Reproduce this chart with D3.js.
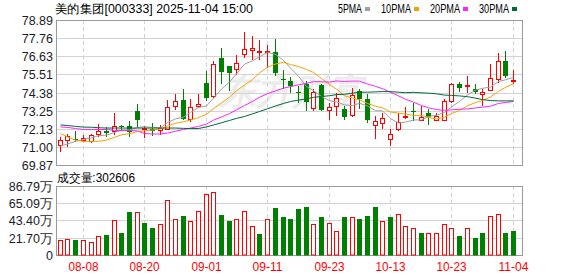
<!DOCTYPE html>
<html>
<head>
<meta charset="utf-8">
<script src="https://cdn.jsdelivr.net/npm/d3@7"></script>
<style>
body { margin: 0; background: #fff; }
svg text { font-family: "Liberation Sans", Arial, sans-serif; }
</style>
</head>
<body>
<div id="canvas"></div>
<script>
"use strict"

let title = "美的集团[000333] 2025-11-04 15:00"
let volTitle = "成交量:302606"

let dates = ["08-05","08-06","08-07","08-08","08-11","08-12","08-13","08-14","08-15","08-18",
    "08-19","08-20","08-21","08-22","08-25","08-26","08-27","08-28","08-29","09-01",
    "09-02","09-03","09-04","09-05","09-08","09-09","09-10","09-11","09-12","09-15",
    "09-16","09-17","09-18","09-19","09-22","09-23","09-24","09-25","09-26","09-29",
    "09-30","10-09","10-10","10-13","10-14","10-15","10-16","10-17","10-20","10-21",
    "10-22","10-23","10-24","10-27","10-28","10-29","10-30","10-31","11-03","11-04"]

let opens = [71.14, 71.47, 71.52, 71.45, 71.37, 71.82, 72.03, 71.99, 72.32, 72.34,
    73.23, 72.20, 72.17, 72.05, 72.11, 73.56, 73.93, 72.78, 73.56, 75.02,
    74.18, 76.57, 76.05, 75.89, 76.78, 77.07, 76.96, 77.00, 76.94, 75.24,
    75.12, 74.45, 74.91, 73.46, 74.85, 73.31, 73.56, 73.36, 73.04, 74.49,
    74.02, 72.42, 72.53, 71.49, 72.11, 72.90, 73.27, 72.73, 73.11, 72.73,
    72.73, 73.87, 74.91, 74.87, 74.64, 74.33, 74.56, 75.26, 76.40, 75.16]

let highs = [71.66, 71.80, 71.99, 71.74, 71.86, 72.48, 72.28, 73.11, 72.40, 72.61,
    73.67, 72.32, 72.53, 72.38, 73.93, 74.29, 74.60, 73.98, 74.29, 75.74,
    76.40, 77.15, 76.05, 76.73, 78.19, 77.91, 77.65, 77.35, 77.71, 75.84,
    75.39, 74.81, 75.12, 74.64, 74.91, 73.77, 74.39, 73.56, 74.70, 74.64,
    74.29, 72.94, 73.15, 72.11, 73.15, 73.50, 73.77, 73.56, 73.36, 73.11,
    74.02, 75.02, 75.05, 75.43, 74.95, 74.60, 76.20, 76.84, 76.98, 75.84]

let lows = [70.70, 71.04, 71.32, 71.32, 71.24, 71.66, 71.66, 71.76, 71.99, 71.63,
    72.22, 71.60, 71.70, 71.74, 72.11, 73.35, 72.73, 72.57, 73.46, 73.87,
    74.04, 74.91, 74.49, 75.53, 76.57, 76.46, 76.46, 75.95, 75.43, 74.60,
    74.39, 73.77, 73.25, 73.25, 73.25, 72.73, 72.94, 72.73, 72.90, 73.36,
    72.53, 71.49, 72.11, 71.07, 72.00, 72.78, 72.63, 72.63, 72.42, 72.63,
    72.63, 73.77, 74.43, 74.39, 74.29, 73.56, 74.49, 75.02, 75.33, 74.95]

let closes = [71.43, 71.72, 71.48, 71.61, 71.78, 72.03, 71.91, 72.34, 72.24, 71.94,
    72.73, 72.22, 72.00, 72.22, 73.52, 73.87, 72.78, 73.52, 73.71, 74.04,
    76.20, 75.70, 75.64, 76.26, 77.09, 77.19, 76.98, 77.02, 75.64, 75.22,
    74.80, 74.43, 73.81, 74.43, 73.31, 73.50, 74.08, 72.90, 74.23, 73.98,
    72.67, 72.62, 72.84, 71.86, 72.57, 72.98, 73.25, 72.88, 72.90, 72.94,
    73.91, 74.91, 74.66, 74.89, 74.45, 74.43, 75.33, 76.38, 75.43, 75.18]

// volume in 万手
let volumes = [18.9, 21.0, 20.1, 20.1, 17.6, 23.9, 25.2, 44.9, 28.1, 54.1,
    54.1, 40.6, 34.0, 39.0, 70.0, 46.5, 49.1, 42.8, 56.6, 77.6,
    80.5, 50.7, 44.0, 46.1, 55.4, 37.7, 26.8, 46.1, 59.5, 47.8,
    45.3, 57.9, 60.4, 39.0, 47.8, 41.5, 30.2, 47.8, 47.8, 46.5,
    50.3, 61.6, 42.8, 47.8, 51.6, 37.3, 34.0, 27.7, 28.9, 27.7,
    39.0, 35.2, 23.9, 34.0, 22.6, 27.7, 50.3, 51.6, 27.7, 30.26]

let ma5 = [71.08, 71.21, 71.38, 71.49, 71.60, 71.72, 71.76, 71.93, 72.06, 72.09,
    72.23, 72.29, 72.23, 72.22, 72.54, 72.77, 72.88, 73.18, 73.48, 73.58,
    74.05, 74.63, 75.06, 75.57, 76.18, 76.38, 76.63, 76.91, 76.78, 76.41,
    75.93, 75.42, 74.78, 74.54, 74.16, 73.90, 73.83, 73.64, 73.60, 73.74,
    73.57, 73.28, 73.27, 72.79, 72.51, 72.57, 72.70, 72.71, 72.92, 72.99,
    73.18, 73.51, 73.86, 74.26, 74.56, 74.67, 74.75, 75.10, 75.20, 75.35]

let ma10 = [71.86, 71.65, 71.45, 71.37, 71.37, 71.37, 71.45, 71.62, 71.78, 71.85,
    71.98, 72.03, 72.08, 72.14, 72.32, 72.50, 72.59, 72.70, 72.85, 73.06,
    73.41, 73.76, 74.12, 74.52, 74.88, 75.21, 75.63, 75.98, 76.18, 76.29,
    76.15, 76.03, 75.84, 75.66, 75.28, 74.91, 74.62, 74.21, 74.07, 73.95,
    73.73, 73.55, 73.46, 73.20, 73.13, 73.07, 72.99, 72.99, 72.86, 72.75,
    72.88, 73.10, 73.29, 73.59, 73.78, 73.92, 74.13, 74.48, 74.73, 74.96]

let ma20 = [72.27, 72.24, 72.17, 72.11, 72.11, 72.11, 72.11, 72.05, 72.05, 72.05,
    72.02, 71.86, 71.83, 71.83, 71.89, 72.00, 72.11, 72.20, 72.30, 72.45,
    72.69, 72.89, 73.10, 73.33, 73.60, 73.86, 74.11, 74.34, 74.51, 74.68,
    74.78, 74.89, 74.98, 75.09, 75.08, 75.06, 75.13, 75.10, 75.12, 75.12,
    74.94, 74.79, 74.65, 74.43, 74.20, 73.99, 73.81, 73.60, 73.46, 73.35,
    73.30, 73.33, 73.37, 73.39, 73.45, 73.50, 73.56, 73.73, 73.79, 73.85]

let ma30 = [72.39, 72.36, 72.30, 72.26, 72.25, 72.22, 72.20, 72.20, 72.20, 72.20,
    72.20, 72.20, 72.20, 72.20, 72.20, 72.20, 72.18, 72.17, 72.17, 72.27,
    72.39, 72.53, 72.67, 72.80, 72.92, 73.08, 73.23, 73.40, 73.57, 73.73,
    73.85, 73.94, 74.01, 74.11, 74.16, 74.21, 74.28, 74.30, 74.37, 74.43,
    74.43, 74.45, 74.47, 74.46, 74.43, 74.40, 74.42, 74.39, 74.37, 74.33,
    74.25, 74.23, 74.20, 74.15, 74.06, 73.97, 73.91, 73.89, 73.89, 73.89]

let priceTicks = [69.87, 71.00, 72.13, 73.25, 74.38, 75.51, 76.63, 77.76, 78.89]
let volTicks = [0, 21.70, 43.40, 65.09, 86.79]
let dateTicks = ["08-08", "08-20", "09-01", "09-11", "09-23", "10-13", "10-23", "11-04"]

let maSeries = [
    { name: "5PMA", values: ma5, color: "#a0a0a0" },
    { name: "10PMA", values: ma10, color: "#f5a300" },
    { name: "20PMA", values: ma20, color: "#ff22ff" },
    { name: "30PMA", values: ma30, color: "#00693a" }
]

let svgWidth = 578
let svgHeight = 276
let plotLeft = 56
let plotRight = 522
let upColor = "#ff0000"
let downColor = "#008000"
let gridColor = "#d3d3d3"
let frameColor = "#9a9a9a"
let monoFont = "'Liberation Mono', 'Noto Sans CJK SC', monospace"

let svg = d3.select("#canvas")
    .append("svg")
    .attr("width", svgWidth)
    .attr("height", svgHeight)

let candles = dates.map(function (d, i) {
    return {
        date: d, open: opens[i], high: highs[i], low: lows[i], close: closes[i],
        volume: volumes[i],
        rising: i === 0 ? closes[i] >= opens[i] : closes[i] >= closes[i - 1]
    }
})

let xScale = d3.scaleBand()
    .domain(dates)
    .range([56.46, 56.46 + 7.68 * dates.length])
    .paddingInner(0)

let yScale = d3.scaleLinear()
    .domain([69.87, 78.89])
    .range([165.5, 20.5])

let vScale = d3.scaleLinear()
    .domain([0, 86.79])
    .range([255.5, 186.5])

function centerX(d) {
    return Math.round(xScale(d) + xScale.bandwidth() / 2 - 0.5)
}

function textWidth(s) {
    let w = 0
    for (let ch of s) w += ch.charCodeAt(0) > 255 ? 12 : 6
    return w
}

function monoText(g, s, x, y, fill) {
    return g.append("text")
        .attr("x", x)
        .attr("y", y)
        .attr("font-family", monoFont)
        .attr("font-size", 12)
        .attr("fill", fill || "#000")
        .attr("textLength", textWidth(s))
        .attr("lengthAdjust", "spacingAndGlyphs")
        .text(s)
}

// watermark
svg.append("text")
    .attr("x", 292)
    .attr("y", 104)
    .attr("text-anchor", "middle")
    .attr("font-family", "'Noto Sans CJK SC'")
    .attr("font-size", 36)
    .attr("font-style", "italic")
    .attr("font-weight", "bold")
    .attr("fill", "#ececec")
    .text("东方财富")

// grid lines
function drawGrid(scale, ticks, top, bottom) {
    svg.append("g")
        .selectAll("line")
        .data(ticks)
        .join("line")
        .attr("x1", plotLeft)
        .attr("x2", plotRight)
        .attr("y1", function (v) { return Math.round(scale(v) - 0.5) + 0.5 })
        .attr("y2", function (v) { return Math.round(scale(v) - 0.5) + 0.5 })
        .attr("stroke", gridColor)

    svg.append("g")
        .selectAll("line")
        .data(dateTicks)
        .join("line")
        .attr("x1", function (d) { return centerX(d) + 0.5 })
        .attr("x2", function (d) { return centerX(d) + 0.5 })
        .attr("y1", top)
        .attr("y2", bottom)
        .attr("stroke", gridColor)
        .attr("stroke-dasharray", "4,3")

    svg.append("rect")
        .attr("x", plotLeft + 0.5)
        .attr("y", top + 0.5)
        .attr("width", plotRight - plotLeft)
        .attr("height", bottom - top)
        .attr("fill", "none")
        .attr("stroke", frameColor)
}

drawGrid(yScale, priceTicks, 20, 165)
drawGrid(vScale, volTicks, 186, 255)

// axis labels
let yAxis = svg.append("g")
    .attr("transform", `translate(${plotLeft - 2},0)`)
    .call(d3.axisLeft(yScale).tickValues(priceTicks).tickSize(0).tickPadding(1)
        .tickFormat(function (v) { return v.toFixed(2) }))
yAxis.select(".domain").remove()
yAxis.selectAll("text")
    .attr("font-family", "'Liberation Sans', Arial")
    .attr("font-size", 12.5)
    .attr("fill", "#1c1c28")

let vAxis = svg.append("g")
    .attr("transform", `translate(${plotLeft - 2},0)`)
    .call(d3.axisLeft(vScale).tickValues(volTicks).tickSize(0).tickPadding(1)
        .tickFormat(function (v) { return v === 0 ? "0" : v.toFixed(2) + "万" }))
vAxis.select(".domain").remove()
vAxis.selectAll("text")
    .attr("font-family", "'Liberation Sans', 'Noto Sans CJK SC', Arial")
    .attr("font-size", 12.5)
    .attr("fill", "#1c1c28")

svg.append("g")
    .selectAll("text")
    .data(dateTicks)
    .join("text")
    .attr("x", function (d) { return centerX(d) + 0.5 - textWidth(d) / 2 })
    .attr("y", 271)
    .attr("font-family", monoFont)
    .attr("font-size", 12)
    .attr("fill", "#ff0000")
    .attr("textLength", function (d) { return textWidth(d) })
    .attr("lengthAdjust", "spacingAndGlyphs")
    .text(function (d) { return d })

// titles and legend
monoText(svg, title, 55, 13)
monoText(svg, volTitle, 57, 182)

let legendX = 338
let legend = svg.append("g")
maSeries.forEach(function (s) {
    monoText(legend, s.name, legendX, 13)
    legendX += textWidth(s.name) + 3
    legend.append("rect")
        .attr("x", legendX)
        .attr("y", 7)
        .attr("width", 5)
        .attr("height", 4)
        .attr("fill", s.color)
    legendX += 5 + 11
})

// candles
let candleGroup = svg.append("g")

candleGroup.selectAll("line.wick")
    .data(candles)
    .join("line")
    .classed("wick", true)
    .attr("x1", function (d) { return centerX(d.date) + 0.5 })
    .attr("x2", function (d) { return centerX(d.date) + 0.5 })
    .attr("y1", function (d) { return Math.round(yScale(d.high)) })
    .attr("y2", function (d) { return Math.round(yScale(d.low)) })
    .attr("stroke", function (d) { return d.close >= d.open ? upColor : downColor })

candleGroup.selectAll("rect.body")
    .data(candles)
    .join("rect")
    .classed("body", true)
    .each(function (d) {
        let up = d.close >= d.open
        let top = Math.round(yScale(Math.max(d.open, d.close)))
        let bottom = Math.round(yScale(Math.min(d.open, d.close)))
        let c = centerX(d.date)
        let el = d3.select(this)
        if (up) {
            el.attr("x", c - 1.5).attr("y", top + 0.5)
                .attr("width", 4).attr("height", Math.max(bottom - top, 1))
                .attr("fill", "#fff").attr("stroke", upColor)
        } else {
            el.attr("x", c - 2).attr("y", top)
                .attr("width", 5).attr("height", Math.max(bottom - top, 1))
                .attr("fill", downColor)
        }
    })

// moving averages
maSeries.forEach(function (s) {
    let line = d3.line()
        .x(function (v, i) { return centerX(dates[i]) + 0.5 })
        .y(function (v) { return yScale(v) })
    svg.append("path")
        .datum(s.values)
        .attr("d", line)
        .attr("fill", "none")
        .attr("stroke", s.color)
        .attr("stroke-width", 1)
})

// volume bars
svg.append("g")
    .selectAll("rect")
    .data(candles)
    .join("rect")
    .each(function (d) {
        let c = centerX(d.date)
        let top = Math.round(vScale(d.volume))
        let el = d3.select(this)
        if (d.rising) {
            el.attr("x", c - 1.5).attr("y", top + 0.5)
                .attr("width", 4).attr("height", 255 - top - 0.5)
                .attr("fill", "#fff").attr("stroke", upColor)
        } else {
            el.attr("x", c - 2).attr("y", top)
                .attr("width", 5).attr("height", 255.5 - top)
                .attr("fill", downColor)
        }
    })
</script>
</body>
</html>
